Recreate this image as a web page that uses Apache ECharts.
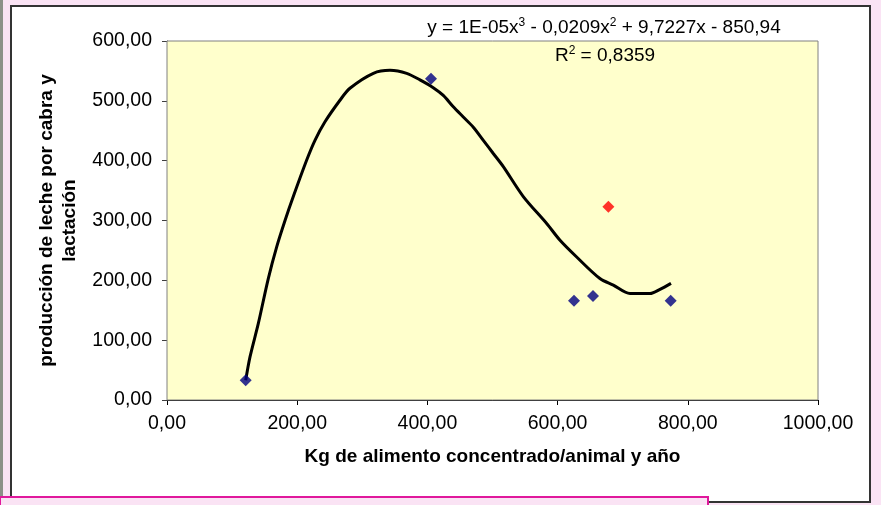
<!DOCTYPE html>
<html>
<head>
<meta charset="utf-8">
<script src="https://cdn.jsdelivr.net/npm/echarts@6/dist/echarts.min.js"></script>
<style>
html,body{margin:0;padding:0;background:#FAE3F4;}
#chart{width:881px;height:505px;}
</style>
</head>
<body>
<div id="chart"></div>
<script>
// Data
var observedX = [120.9, 405.5, 625.2, 654.4, 773.7];
var observedY = [33, 537, 166, 174, 166];
var outlierX = [678];
var outlierY = [323];
var trendX = [120.9, 127.5, 140.3, 155.6, 168.5, 181.3, 194, 214.6, 227.3, 242.7, 265.7, 281, 317, 342.5, 368.2, 388.6, 409, 424.4, 439.8, 455.1, 470.5, 485.9, 501.2, 516.6, 547.3, 583.2, 603.7, 629.3, 665, 685.6, 711.2, 741.9, 757.3, 774.2];
var trendY = [33, 72, 128, 203, 256, 300, 340, 401, 434, 465, 501, 521, 546, 551, 546, 535, 522, 509, 490, 473, 456, 434, 412, 390, 340, 295, 267, 239, 203, 192, 178, 178, 185, 195];
var xTickLabels = ['0,00', '200,00', '400,00', '600,00', '800,00', '1000,00'];
var yTickLabels = ['0,00', '100,00', '200,00', '300,00', '400,00', '500,00', '600,00'];
var xTitle = 'Kg de alimento concentrado/animal y año';
var yTitle = 'producción de leche por cabra y\nlactación';

function zip(a, b) { return a.map(function (v, i) { return [v, b[i]]; }); }

var FONT = '"Liberation Sans", Arial, sans-serif';
var chart = echarts.init(document.getElementById('chart'), null, {renderer: 'canvas'});
chart.setOption({
  backgroundColor: '#FAE3F4',
  animation: false,
  textStyle: {fontFamily: FONT},
  grid: {
    left: 167, top: 41, right: 63, bottom: 105,
    show: true, backgroundColor: '#FFFFCC', borderColor: '#808080', borderWidth: 1,
    z: 2
  },
  graphic: [
    {type: 'rect', z: -10, shape: {x: 0, y: 0, width: 3, height: 505}, style: {fill: '#8C9088'}},
    {type: 'rect', z: -5, shape: {x: 11, y: 6, width: 859, height: 496}, style: {fill: '#FFFFFF', stroke: '#333333', lineWidth: 2}},
    {type: 'rect', z: 100, shape: {x: 0, y: 497, width: 708, height: 12}, style: {fill: '#FAE3F4', stroke: '#E0189C', lineWidth: 2}},
    {type: 'text', z: 100, x: 604, y: 28, style: {
      text: '{a|y = 1E-05x}{s|3}{a| - 0,0209x}{s|2}{a| + 9,7227x - 850,94}',
      align: 'center', verticalAlign: 'middle',
      rich: {
        a: {fontSize: 19, fontFamily: FONT, fill: '#000'},
        s: {fontSize: 12, fontFamily: FONT, fill: '#000', padding: [0, 0, 10, 0]}
      }
    }},
    {type: 'text', z: 100, x: 605, y: 56, style: {
      text: '{a|R}{s|2}{a| = 0,8359}',
      align: 'center', verticalAlign: 'middle',
      rich: {
        a: {fontSize: 19, fontFamily: FONT, fill: '#000'},
        s: {fontSize: 12, fontFamily: FONT, fill: '#000', padding: [0, 0, 10, 0]}
      }
    }}
  ],
  xAxis: {
    type: 'value', min: 0, max: 1000, interval: 200,
    name: xTitle, nameLocation: 'middle', nameGap: 47,
    nameTextStyle: {fontSize: 19, fontWeight: 'bold', color: '#000', fontFamily: FONT},
    axisLine: {show: true, onZero: false, lineStyle: {color: '#000', width: 1}},
    axisTick: {show: true, inside: false, length: 5, lineStyle: {color: '#000'}},
    axisLabel: {margin: 14, fontSize: 19.5, color: '#000', fontFamily: FONT,
      formatter: function (v) { return xTickLabels[Math.round(v / 200)]; }},
    splitLine: {show: false}
  },
  yAxis: {
    type: 'value', min: 0, max: 600, interval: 100,
    name: yTitle, nameLocation: 'middle', nameGap: 86, nameRotate: 90,
    nameTextStyle: {fontSize: 19, fontWeight: 'bold', color: '#000', fontFamily: FONT, lineHeight: 23, align: 'center'},
    axisLine: {show: true, onZero: false, lineStyle: {color: '#404040', width: 1}},
    axisTick: {show: true, inside: false, length: 5, lineStyle: {color: '#404040'}},
    axisLabel: {margin: 15, fontSize: 19.5, color: '#000', fontFamily: FONT,
      formatter: function (v) { return yTickLabels[Math.round(v / 100)]; }},
    splitLine: {show: true, lineStyle: {color: '#606060', width: 1}}
  },
  series: [
    {
      type: 'line', data: zip(trendX, trendY), showSymbol: false, symbol: 'none',
      smooth: 0.3, lineStyle: {color: '#000', width: 3}, z: 3
    },
    {
      type: 'scatter', data: zip(observedX, observedY), symbol: 'diamond', symbolSize: [12, 12],
      itemStyle: {color: '#000080'}, z: 4
    },
    {
      type: 'scatter', data: zip(outlierX, outlierY), symbol: 'diamond', symbolSize: [12, 12],
      itemStyle: {color: '#FF0000'}, z: 4
    }
  ]
});
</script>
</body>
</html>
